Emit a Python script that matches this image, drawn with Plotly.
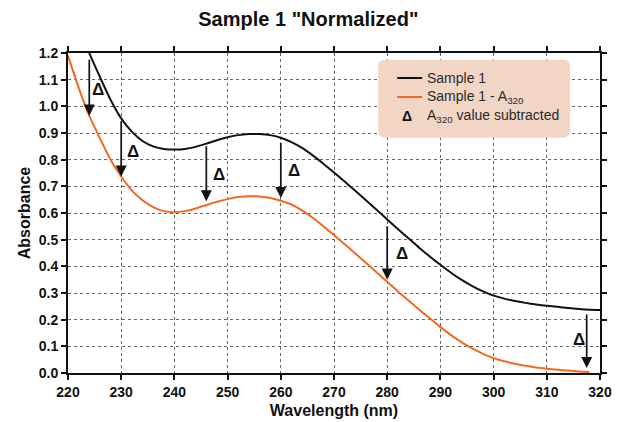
import plotly.graph_objects as go

# ---------------- data ----------------
wavelength = [220, 222, 224, 226, 228, 230, 232, 234, 236, 238, 240, 242, 244, 246, 248,
              250, 252, 254, 256, 258, 260, 262, 264, 266, 268, 270, 272, 274, 276, 278,
              280, 282, 284, 286, 288, 290, 292, 294, 296, 298, 300, 302, 304, 306, 308,
              310, 312, 314, 316, 318, 320]

sample1 = [1.43, 1.31, 1.20, 1.11, 1.025, 0.955, 0.905, 0.87, 0.85, 0.84, 0.838, 0.84, 0.848,
           0.86, 0.873, 0.884, 0.892, 0.896, 0.896, 0.892, 0.882, 0.866, 0.844, 0.816, 0.785,
           0.752, 0.718, 0.683, 0.648, 0.612, 0.576, 0.54, 0.505, 0.47, 0.437, 0.406, 0.376,
           0.349, 0.326, 0.306, 0.29, 0.279, 0.27, 0.263, 0.257, 0.252, 0.248, 0.244, 0.24,
           0.237, 0.236]

wavelength_norm = wavelength[:-1]
sample1_norm = [1.19, 1.07, 0.965, 0.88, 0.80, 0.737, 0.685, 0.648, 0.622, 0.607, 0.603, 0.607,
                0.617, 0.63, 0.642, 0.652, 0.66, 0.663, 0.662, 0.656, 0.646, 0.632, 0.61, 0.582,
                0.55, 0.517, 0.483, 0.448, 0.413, 0.378, 0.342, 0.306, 0.272, 0.238, 0.205,
                0.172, 0.142, 0.115, 0.092, 0.072, 0.056, 0.044, 0.035, 0.027, 0.021, 0.016,
                0.012, 0.009, 0.006, 0.004]

arrow_x = [224, 230, 246, 260, 280, 317.5]
arrow_top = [1.18, 0.95, 0.856, 0.869, 0.556, 0.225]
arrow_tip = [0.965, 0.737, 0.644, 0.656, 0.35, 0.019]
delta_x = [225.7, 232.3, 248.3, 262.4, 282.7, 316.1]
delta_y = [1.062, 0.831, 0.744, 0.76, 0.45, 0.125]

x_ticks = list(range(220, 321, 10))
y_ticks = [round(i * 0.1, 1) for i in range(13)]

title_text = 'Sample 1 "Normalized"'
legend_labels = ["Sample 1", "Sample 1 - A<sub>320</sub>", "A<sub>320</sub> value subtracted"]

BLACK = "#111111"
ORANGE = "#f26a1e"
FONT = "Liberation Sans, Arial, sans-serif"

fig = go.Figure()
fig.add_trace(go.Scatter(x=wavelength, y=sample1, mode="lines", name=legend_labels[0],
                         line=dict(color=BLACK, width=2, shape="spline", smoothing=0.6),
                         showlegend=False))
fig.add_trace(go.Scatter(x=wavelength_norm, y=sample1_norm, mode="lines", name="Sample 1 - A320",
                         line=dict(color=ORANGE, width=2, shape="spline", smoothing=0.6),
                         showlegend=False))

annotations = []
for xa, yt, yb in zip(arrow_x, arrow_top, arrow_tip):
    annotations.append(dict(x=xa, y=yb, ax=xa, ay=yt, xref="x", yref="y", axref="x", ayref="y",
                            text="", showarrow=True, arrowhead=2, arrowsize=1.3, arrowwidth=1.7,
                            arrowcolor=BLACK, standoff=0))
for xd, yd in zip(delta_x, delta_y):
    annotations.append(dict(x=xd, y=yd, xref="x", yref="y", text="<b>Δ</b>", showarrow=False,
                            font=dict(family=FONT, size=17, color=BLACK)))

# ---------- legend (drawn by hand to get rounded peach box) ----------
L, R, T, B = 67.5, 600.0, 53.3, 373.3
def px(xp):
    return (xp - L) / (R - L)
def py(yp):
    return (B - yp) / (B - T)

bx0, bx1, by0, by1 = px(378), px(570), py(138), py(60)
rx, ry = 7 / (R - L), 7 / (B - T)
path = (f"M {bx0+rx},{by1} L {bx1-rx},{by1} Q {bx1},{by1} {bx1},{by1-ry} "
        f"L {bx1},{by0+ry} Q {bx1},{by0} {bx1-rx},{by0} L {bx0+rx},{by0} "
        f"Q {bx0},{by0} {bx0},{by0+ry} L {bx0},{by1-ry} Q {bx0},{by1} {bx0+rx},{by1} Z")

shapes = [
    dict(type="path", xref="paper", yref="paper", path=path, fillcolor="#f1d6c6",
         line=dict(width=0), layer="above"),
    dict(type="line", xref="paper", yref="paper", x0=px(397), x1=px(422), y0=py(78.3), y1=py(78.3),
         line=dict(color=BLACK, width=2), layer="above"),
    dict(type="line", xref="paper", yref="paper", x0=px(397), x1=px(422), y0=py(97.3), y1=py(97.3),
         line=dict(color=ORANGE, width=2), layer="above"),
]
for lbl, yy in zip(legend_labels, [78.3, 97.3, 116.7]):
    annotations.append(dict(x=px(425), y=py(yy), xref="paper", yref="paper", text=lbl,
                            xanchor="left", yanchor="middle", showarrow=False,
                            font=dict(family=FONT, size=14, color="#2a2a2a")))
annotations.append(dict(x=px(407), y=py(116.7), xref="paper", yref="paper", text="<b>Δ</b>",
                        xanchor="center", yanchor="middle", showarrow=False,
                        font=dict(family=FONT, size=14, color=BLACK)))

axis_common = dict(showline=True, linewidth=2, linecolor=BLACK, mirror="ticks",
                   ticks="outside", ticklen=5, tickwidth=1.5, tickcolor=BLACK,
                   showgrid=True, gridcolor="#666666", gridwidth=1, griddash="3px,3px",
                   zeroline=False, automargin=False,
                   tickfont=dict(family=FONT, size=14, color=BLACK, weight="bold"))

fig.update_layout(
    width=622, height=422,
    margin=dict(l=67.5, r=22, t=53.3, b=48.7),
    paper_bgcolor="white", plot_bgcolor="white",
    title=dict(text=f"<b>{title_text}</b>", x=281 / 622, xanchor="center", xref="paper",
               y=1 - 19 / 422, yanchor="middle", yref="container",
               font=dict(family=FONT, size=20, color=BLACK)),
    xaxis=dict(range=[220, 320], tickvals=x_ticks,
               title=dict(text="<b>Wavelength (nm)</b>", standoff=6,
                          font=dict(family=FONT, size=16, color=BLACK)),
               **axis_common),
    yaxis=dict(range=[0, 1.2], tickvals=y_ticks, tickformat=".1f",
               title=dict(text="<b>Absorbance</b>", standoff=4,
                          font=dict(family=FONT, size=16, color=BLACK)),
               **axis_common),
    shapes=shapes,
    annotations=annotations,
    showlegend=False,
)

fig.write_html("out.html", config={"displayModeBar": False},
               post_script="document.body.style.margin='0';document.body.style.overflow='hidden';")
